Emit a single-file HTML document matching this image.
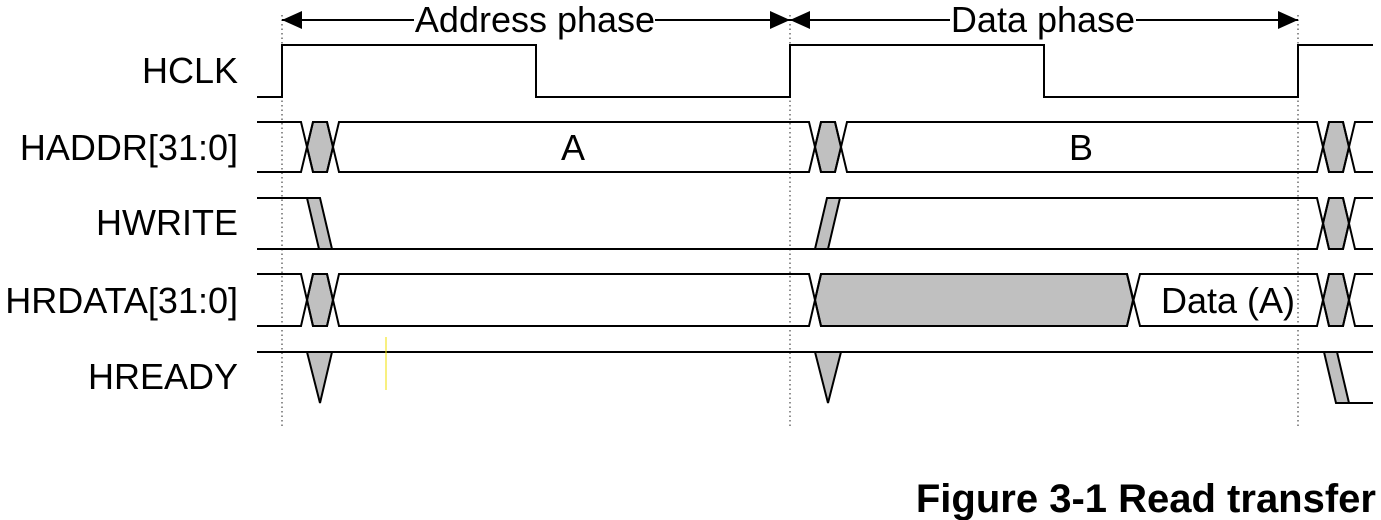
<!DOCTYPE html>
<html><head><style>
html,body{margin:0;padding:0;background:#fff;}
svg{display:block;}
text{font-family:"Liberation Sans",Arial,sans-serif;}
</style></head><body>
<svg width="1381" height="520" viewBox="0 0 1381 520" xmlns="http://www.w3.org/2000/svg">
<g stroke="#555" stroke-width="1.3" stroke-dasharray="1.5,3">
<line x1="282" y1="15" x2="282" y2="428"/>
<line x1="790" y1="15" x2="790" y2="428"/>
<line x1="1298" y1="15" x2="1298" y2="428"/>
</g>
<g stroke="#000" stroke-width="2" fill="none">
<line x1="282" y1="20" x2="414" y2="20"/><line x1="655" y1="20" x2="790" y2="20"/>
<line x1="790" y1="20" x2="950" y2="20"/><line x1="1136" y1="20" x2="1298" y2="20"/>
<polyline points="257,97 282,97 282,45 536,45 536,97 790,97 790,45 1044,45 1044,97 1298,97 1298,45 1373,45"/>
</g>
<g fill="#000">
<polygon points="282,20 302,11 302,29"/><polygon points="790,20 770,11 770,29"/>
<polygon points="790,20 810,11 810,29"/><polygon points="1298,20 1278,11 1278,29"/>
</g>
<g font-size="36" fill="#000">
<text x="535" y="32" text-anchor="middle">Address phase</text>
<text x="1043" y="32" text-anchor="middle">Data phase</text>
<text x="238" y="83" text-anchor="end">HCLK</text>
<text x="238" y="160" text-anchor="end">HADDR[31:0]</text>
<text x="238" y="235" text-anchor="end">HWRITE</text>
<text x="238" y="313" text-anchor="end">HRDATA[31:0]</text>
<text x="238" y="389" text-anchor="end">HREADY</text>
<text x="573" y="160" text-anchor="middle">A</text>
<text x="1081" y="160" text-anchor="middle">B</text>
<text x="1228" y="313" text-anchor="middle">Data (A)</text>
</g>
<g stroke="#000" stroke-width="2" fill="#c0c0c0" stroke-linejoin="miter">
<!-- HADDR -->
<polygon points="313,122 327,122 333,147 327,172 313,172 307,147"/>
<polygon points="821,122 835,122 841,147 835,172 821,172 815,147"/>
<polygon points="1329,122 1343,122 1349,147 1343,172 1329,172 1323,147"/>
<g fill="none">
<polyline points="257,122 301,122 313,172 327,172 339,122 809,122 821,172 835,172 847,122 1317,122 1329,172 1343,172 1355,122 1373,122"/>
<polyline points="257,172 301,172 313,122 327,122 339,172 809,172 821,122 835,122 847,172 1317,172 1329,122 1343,122 1355,172 1373,172"/>
</g>
<!-- HWRITE -->
<polygon points="307,198 320,198 332,249 319,249"/>
<polygon points="815,249 828,249 840,198 827,198"/>
<polygon points="1329,198 1343,198 1349,223 1343,249 1329,249 1323,223"/>
<g fill="none">
<polyline points="257,198 307,198"/><polyline points="257,249 815,249"/>
<polyline points="840,198 1317,198 1329,249 1343,249 1355,198 1373,198"/>
<polyline points="828,249 1317,249 1329,198 1343,198 1355,249 1373,249"/>
</g>
<!-- HRDATA -->
<polygon points="313,274 327,274 333,300 327,326 313,326 307,300"/>
<polygon points="821,274 1127,274 1133,300 1127,326 821,326 815,300"/>
<polygon points="1329,274 1343,274 1349,300 1343,326 1329,326 1323,300"/>
<g fill="none">
<polyline points="257,274 301,274 313,326 327,326 339,274 809,274 821,326 1127,326 1140,274 1317,274 1329,326 1343,326 1355,274 1373,274"/>
<polyline points="257,326 301,326 313,274 327,274 339,326 809,326 821,274 1127,274 1140,326 1317,326 1329,274 1343,274 1355,326 1373,326"/>
</g>
<!-- HREADY -->
<line x1="257" y1="352" x2="1373" y2="352"/>
<polygon points="307,352 332,352 320,403"/>
<polygon points="815,352 841,352 828,403"/>
<polygon points="1324,352 1337,352 1349,403 1336,403"/>
<line x1="1349" y1="403" x2="1373" y2="403"/>
</g>
<line x1="386" y1="337" x2="386" y2="390" stroke="#f0e000" stroke-width="1"/>
<text x="1376" y="512" text-anchor="end" font-size="40" font-weight="bold" fill="#000">Figure 3-1 Read transfer</text>
</svg>
</body></html>
